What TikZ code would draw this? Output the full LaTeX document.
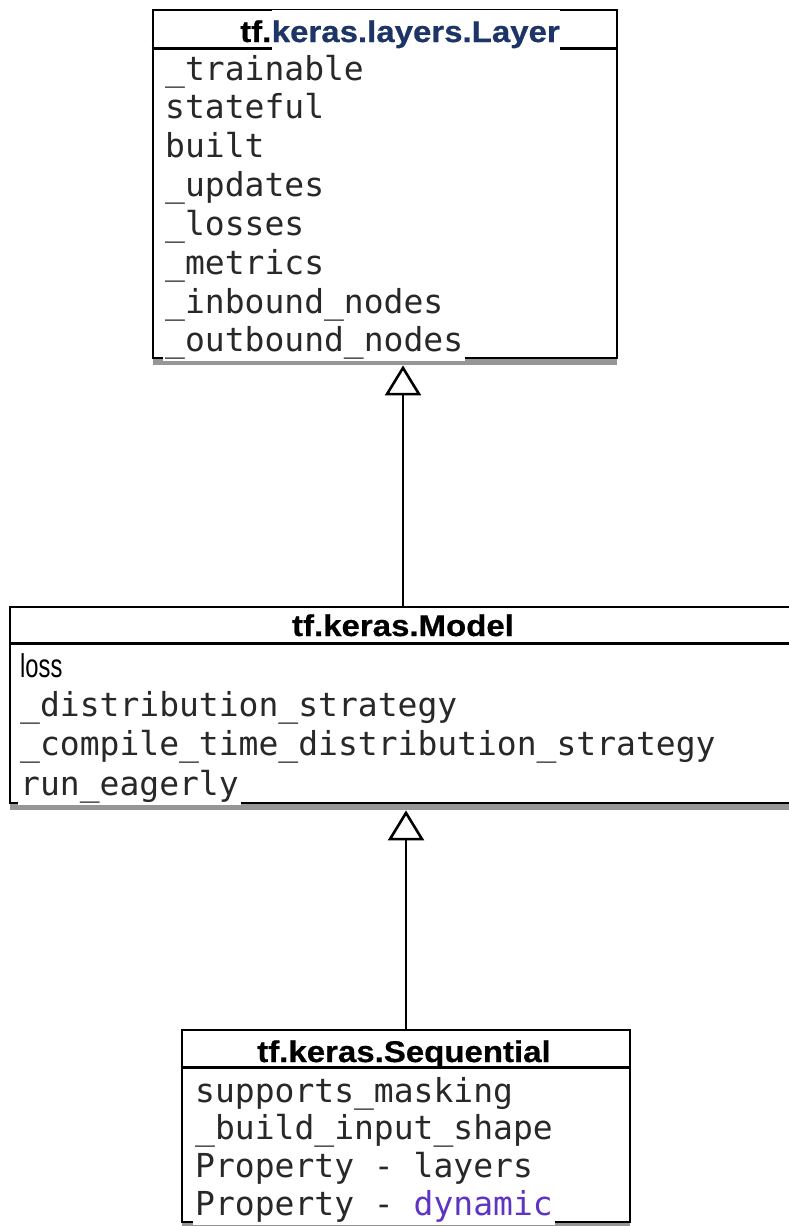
\documentclass[tikz,border=0pt]{standalone}
\usepackage{fontspec}
\setmonofont{DejaVu Sans Mono}
\newfontfamily\titlefont[FakeStretch=1.1, FakeBold=0.6]{Liberation Sans}
\newfontfamily\lossfont[FakeStretch=0.72]{Liberation Sans}
\usepackage{tikz}
\usetikzlibrary{arrows.meta, shadows}

\definecolor{linknavy}{RGB}{28,52,102}
\definecolor{kwpurple}{RGB}{94,52,196}
\definecolor{inkgray}{RGB}{40,40,40}

\tikzset{
    classbox/.style={draw, line width=2.8pt, fill=white, inner sep=0pt,
        drop shadow={shadow xshift=0pt, shadow yshift=-7pt, opacity=0.55, fill=black!75}},
    headrule/.style={line width=2.8pt},
    title/.style={font=\titlefont\bfseries\fontsize{30}{30}\selectfont, inner sep=0pt},
    attr/.style={font=\ttfamily\fontsize{33}{33}\selectfont, anchor=base west, text=inkgray,
        inner xsep=2pt, inner ysep=0pt, fill=white, text height=25pt, text depth=10pt},
    attrsans/.style={attr, font=\lossfont\fontsize{33}{33}\selectfont, text=black},
    inherit/.style={line width=2.6pt, shorten >=6pt,
        -{Triangle[open, length=30pt, width=36pt, line width=2.6pt]}}
}

\begin{document}
\begin{tikzpicture}[x=1pt, y=-1pt]
    \useasboundingbox (0,0) rectangle (788,1226);

    % class boxes
    \node[classbox, minimum width=464pt, minimum height=348pt] (layer) at (385,184)  {};
    \node[classbox, minimum width=786pt, minimum height=196pt] (model) at (403,705)  {};
    \node[classbox, minimum width=448pt, minimum height=192pt] (seq)   at (406,1126) {};

    \draw[headrule] ([yshift=-40pt]layer.north west) -- ([yshift=-40pt]layer.north east);
    \draw[headrule] ([yshift=-38pt]model.north west) -- ([yshift=-38pt]model.north east);
    \draw[headrule] ([yshift=-39pt]seq.north west)   -- ([yshift=-39pt]seq.north east);

    % titles
    \node[title, anchor=base west] (layer-tf) at (240,42) {tf.};
    \node[title, anchor=base west, fill=white, text height=32pt, text depth=12pt,
          text=linknavy] (layer-name) at (layer-tf.base east) {keras.layers.Layer};
    \node[title, anchor=base] (model-name) at (403,636)  {tf.keras.Model};
    \node[title, anchor=base] (seq-name)   at (404,1062) {tf.keras.Sequential};

    % tf.keras.layers.Layer
    \node[attr] (layer-a1) at (163,80)  {\_trainable};
    \node[attr] (layer-a2) at (163,118) {stateful};
    \node[attr] (layer-a3) at (163,157) {built};
    \node[attr] (layer-a4) at (163,196) {\_updates};
    \node[attr] (layer-a5) at (163,235) {\_losses};
    \node[attr] (layer-a6) at (163,274) {\_metrics};
    \node[attr] (layer-a7) at (163,313) {\_inbound\_nodes};
    \node[attr] (layer-a8) at (163,351) {\_outbound\_nodes};

    % tf.keras.Model
    \node[attrsans] (model-a1) at (18,677) {loss};
    \node[attr]     (model-a2) at (18,716) {\_distribution\_strategy};
    \node[attr]     (model-a3) at (18,755) {\_compile\_time\_distribution\_strategy};
    \node[attr]     (model-a4) at (18,795) {run\_eagerly};

    % tf.keras.Sequential
    \node[attr] (seq-a1) at (193,1102) {supports\_masking};
    \node[attr] (seq-a2) at (193,1139) {\_build\_input\_shape};
    \node[attr] (seq-a3) at (193,1177) {Property - layers};
    \node[attr] (seq-a4) at (193,1215) {Property - \textcolor{kwpurple}{dynamic}};

    % inheritance
    \draw[inherit] (model.north) -- (model.north |- layer.south);
    \draw[inherit] (seq.north)   -- (seq.north |- model.south);
\end{tikzpicture}
\end{document}
